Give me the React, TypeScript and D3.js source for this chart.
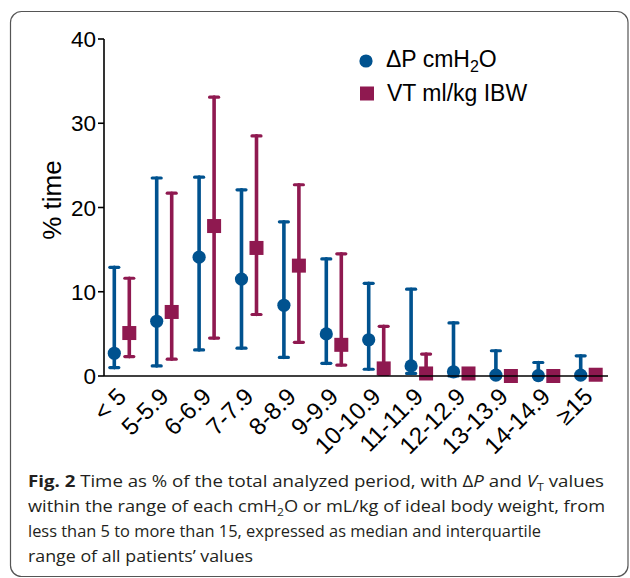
import React from "react";
import * as d3 from "d3";

const categories = ["< 5", "5-5.9", "6-6.9", "7-7.9", "8-8.9", "9-9.9", "10-10.9", "11-11.9", "12-12.9", "13-13.9", "14-14.9", "\u226515"];

// delta P (cmH2O): median, 25th and 75th percentiles
const dpMedian = [2.7, 6.5, 14.1, 11.5, 8.4, 5.0, 4.3, 1.2, 0.5, 0.1, 0.05, 0.1];
const dpQ1 = [1.0, 1.2, 3.1, 3.3, 2.2, 1.5, 0.8, 0.3, 0, 0, 0, 0];
const dpQ3 = [12.9, 23.5, 23.6, 22.1, 18.3, 13.9, 11.0, 10.3, 6.3, 3.0, 1.6, 2.4];

// VT (ml/kg IBW)
const vtMedian = [5.1, 7.6, 17.8, 15.2, 13.1, 3.7, 0.9, 0.3, 0.3, 0, 0, 0.15];
const vtQ1 = [2.3, 2.0, 4.5, 7.3, 4.0, 1.3, 0.2, 0, 0, 0, 0, 0];
const vtQ3 = [11.6, 21.7, 33.1, 28.5, 22.7, 14.5, 5.9, 2.6, 0.8, 0, 0, 0.15];

const yTicks = [0, 10, 20, 30, 40];

const BLUE = "#00528f";
const PINK = "#8f1950";

const W = 630;
const H = 578;

const App = () => {
  const x = d3.scalePoint<string>().domain(categories).range([121.8, 588.2]);
  const y = d3.scaleLinear().domain([0, 40]).range([376, 39]);
  const off = 7.5;

  const bar = (cx: number, lo: number, hi: number, color: string, key: string) => {
    if (hi - lo <= 0.05) return null;
    return (
      <g key={key} stroke={color} strokeLinecap="round">
        <line x1={cx} x2={cx} y1={y(lo)} y2={y(hi)} strokeWidth={3.6} />
        <line x1={cx - 4.5} x2={cx + 4.5} y1={y(hi)} y2={y(hi)} strokeWidth={3.2} />
        <line x1={cx - 4.5} x2={cx + 4.5} y1={y(lo)} y2={y(lo)} strokeWidth={3.2} />
      </g>
    );
  };

  const axisFont = "'Liberation Sans', Arial, sans-serif";
  const capFont = "'Open Sans', 'Noto Sans', sans-serif";

  return (
    <svg width={W} height={H} style={{ position: "absolute", left: 0, top: 0, display: "block" }}>
      <rect x={0} y={0} width={W} height={H} fill="#fff" />
      <rect x={10.5} y={11.5} width={617.5} height={565} rx={11} fill="none" stroke="#555" strokeWidth={1.2} />

      {/* error bars */}
      {categories.map((c, i) => bar(x(c)! - off, dpQ1[i], dpQ3[i], BLUE, "b" + i))}
      {categories.map((c, i) => bar(x(c)! + off, vtQ1[i], vtQ3[i], PINK, "p" + i))}

      {/* medians */}
      {categories.map((c, i) => (
        <circle key={"c" + i} cx={x(c)! - off} cy={y(dpMedian[i])} r={6.6} fill={BLUE} />
      ))}
      {categories.map((c, i) => (
        <rect key={"s" + i} x={x(c)! + off - 7} y={y(vtMedian[i]) - 7} width={14} height={14} fill={PINK} />
      ))}

      {/* y axis */}
      <line x1={104} x2={104} y1={y(40)} y2={y(0)} stroke="#000" strokeWidth={1.6} />
      {yTicks.map((t) => (
        <g key={t}>
          <line x1={98} x2={104} y1={y(t)} y2={y(t)} stroke="#000" strokeWidth={1.6} />
          <text x={96} y={y(t)} dy="0.36em" textAnchor="end" fontFamily={axisFont} fontSize={22.5} fill="#000">
            {t}
          </text>
        </g>
      ))}
      <text
        transform={`translate(61, 200) rotate(-90)`}
        textAnchor="middle"
        fontFamily={axisFont}
        fontSize={26}
        fill="#000"
      >
        % time
      </text>

      {/* x axis */}
      <line x1={104} x2={608} y1={y(0)} y2={y(0)} stroke="#000" strokeWidth={1.6} />
      {categories.map((c) => (
        <text
          key={c}
          transform={`translate(${x(c)! + 6}, 398) rotate(-45)`}
          textAnchor="end"
          fontFamily={axisFont}
          fontSize={24}
          fill="#000"
        >
          {c}
        </text>
      ))}

      {/* legend */}
      <circle cx={366} cy={61} r={6.6} fill={BLUE} />
      <text x={386} y={67} fontFamily={axisFont} fontSize={23} fill="#000">
        ΔP cmH<tspan dy={5} fontSize={16}>2</tspan>
        <tspan dy={-5}>O</tspan>
      </text>
      <rect x={360} y={86.5} width={14} height={14} fill={PINK} />
      <text x={387} y={101} fontFamily={axisFont} fontSize={23} fill="#000">
        VT ml/kg IBW
      </text>

      {/* caption */}
      <g fontFamily={capFont} fontSize={16.5} fill="#231f20">
        <text x={28} y={487} textLength={576} lengthAdjust="spacingAndGlyphs">
          <tspan fontWeight="bold">Fig. 2</tspan> Time as  % of the total analyzed period, with Δ
          <tspan fontStyle="italic">P</tspan> and <tspan fontStyle="italic">V</tspan>
          <tspan dy={4} fontSize={11}>T</tspan>
          <tspan dy={-4}> values</tspan>
        </text>
        <text x={28} y={512} textLength={577} lengthAdjust="spacingAndGlyphs">
          within the range of each cmH<tspan dy={4} fontSize={11}>2</tspan>
          <tspan dy={-4}>O or mL/kg of ideal body weight, from</tspan>
        </text>
        <text x={28} y={537} textLength={513} lengthAdjust="spacingAndGlyphs">
          less than 5 to more than 15, expressed as median and interquartile
        </text>
        <text x={28} y={562} textLength={225} lengthAdjust="spacingAndGlyphs">
          range of all patients’ values
        </text>
      </g>
    </svg>
  );
};

export default App;
